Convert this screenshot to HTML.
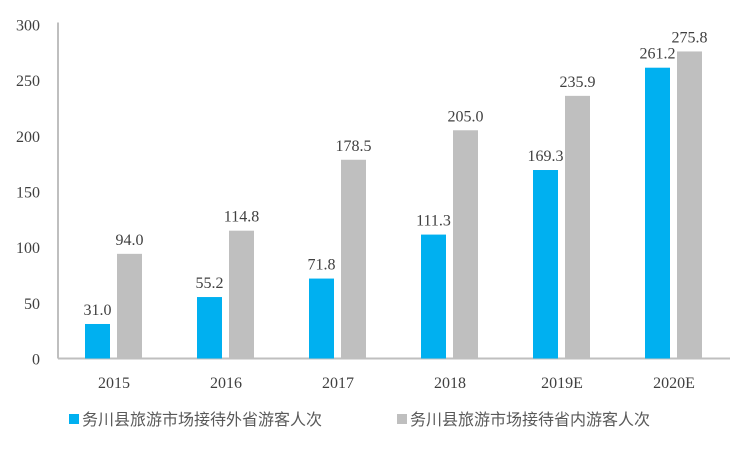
<!DOCTYPE html>
<html><head><meta charset="utf-8"><style>
body{margin:0;background:#fff;}
svg text{font-family:"Liberation Serif","Noto Serif CJK SC",serif;}
.leg{font-family:"Liberation Sans","Noto Sans CJK SC",sans-serif;}
</style></head><body>
<svg id="chart" width="750" height="450">
<g id="axes"></g><g id="bars"></g>
<g>
<rect x="69" y="414" width="10" height="10" fill="#00b0f0"/>
<text class="leg" x="82" y="425" font-size="16" fill="#595959">务川县旅游市场接待外省游客人次</text>
<rect x="397" y="414" width="10" height="10" fill="#bfbfbf"/>
<text class="leg" x="410" y="425" font-size="16" fill="#595959">务川县旅游市场接待省内游客人次</text>
</g>
</svg>
<script>
const categories=["2015","2016","2017","2018","2019E","2020E"];
const outerValues=[31.0,55.2,71.8,111.3,169.3,261.2];
const innerValues=[94.0,114.8,178.5,205.0,235.9,275.8];
const yTicks=[0,50,100,150,200,250,300];
const NS="http://www.w3.org/2000/svg";
const x0=58,x1=730,y0=358.5,yTop=24.5,yMax=300;
const bw=(x1-x0)/categories.length;
const y=v=>y0-(v/yMax)*(y0-yTop);
const cx=i=>x0+bw*(i+0.5);
function mk(tag,attrs,parent){const e=document.createElementNS(NS,tag);for(const k in attrs)e.setAttribute(k,attrs[k]);parent.appendChild(e);return e;}
const axes=document.getElementById('axes'),bars=document.getElementById('bars');
yTicks.forEach(t=>{
  const tx=mk('text',{x:40,y:y(t)+6,'text-anchor':'end','font-size':16,fill:'#404040'},axes);
  
  
  tx.textContent=t;
});
const ya=mk('line',{x1:x0,y1:yTop-2,x2:x0,y2:y0,stroke:'#bfbfbf','stroke-width':2},axes);


const xa=mk('line',{x1:x0,y1:y0,x2:x1,y2:y0,stroke:'#bfbfbf','stroke-width':2},axes);


categories.forEach((c,i)=>{
  const tx=mk('text',{x:cx(i),y:388,'text-anchor':'middle','font-size':16,fill:'#404040'},axes);
  
  
  tx.textContent=c;
  [[outerValues[i],-29,'#00b0f0','bar-outer'],[innerValues[i],3,'#bfbfbf','bar-inner']].forEach(([v,off,col,nm])=>{
    const r=mk('rect',{x:cx(i)+off,y:y(v),width:25,height:y0-y(v),fill:col},bars);
    
    
    const l=mk('text',{x:cx(i)+off+12.5,y:y(v)-9,'text-anchor':'middle','font-size':16,fill:'#404040'},bars);
    
    
    l.textContent=v.toFixed(1);
  });
});
</script>
</body></html>
